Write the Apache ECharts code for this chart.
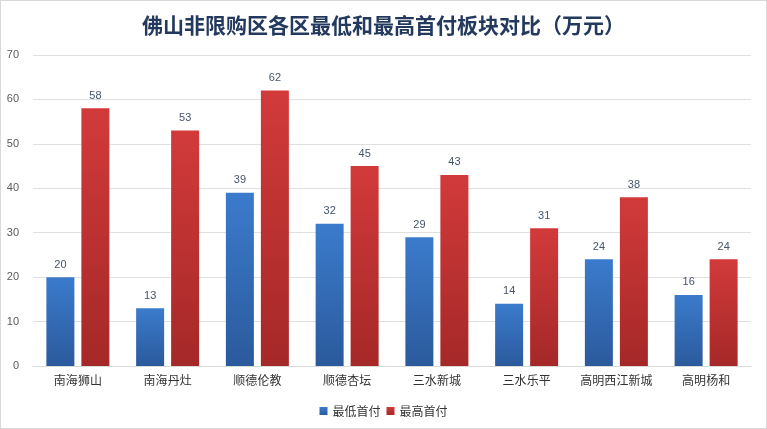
<!DOCTYPE html>
<html><head><meta charset="utf-8">
<script src="https://cdn.jsdelivr.net/npm/echarts@6/dist/echarts.min.js"></script>
<style>html,body{margin:0;padding:0;background:#fff}#c{width:765px;height:427px;border:1px solid #d9d9d9}</style>
</head><body><div id="c"></div>
<script>
const categories = ['南海狮山','南海丹灶','顺德伦教','顺德杏坛','三水新城','三水乐平','高明西江新城','高明杨和'];
const minDown = [20,13,39,32,29,14,24,16];
const maxDown = [58,53,62,45,43,31,38,24];
const seriesNames = ['最低首付','最高首付'];
const chart = echarts.init(document.getElementById('c'));
const grad = (a,b)=>new echarts.graphic.LinearGradient(0,0,0,1,[{offset:0,color:a},{offset:1,color:b}]);
chart.setOption({
  animation:false,
  title:{text:'佛山非限购区各区最低和最高首付板块对比（万元）',left:'center',top:9,
    textStyle:{fontSize:21,fontWeight:'bold',color:'#23395d',fontFamily:'Noto Sans CJK SC'}},
  legend:{bottom:6,left:'center',itemWidth:8,itemHeight:8,itemGap:6,icon:'rect',
    textStyle:{fontSize:12,color:'#333',fontFamily:'Noto Sans CJK SC'},data:seriesNames},
  grid:{left:32,right:15,top:54,bottom:62},
  xAxis:{type:'category',data:categories,axisTick:{show:false},
    axisLine:{lineStyle:{color:'#d9d9d9'}},
    axisLabel:{interval:0,color:'#333',fontSize:12,margin:8,fontFamily:'Noto Sans CJK SC'}},
  yAxis:{type:'value',min:0,max:70,interval:10,
    axisLabel:{color:'#595959',fontSize:11,margin:14},
    splitLine:{lineStyle:{color:'#e0e0e0'}}},
  series:[
    {name:seriesNames[0],type:'bar',data:minDown,barWidth:28,barGap:'25%',
     itemStyle:{color:grad('#3b7bcc','#2b5a9c')},
     label:{show:true,position:'top',color:'#44546a',fontSize:11,distance:7}},
    {name:seriesNames[1],type:'bar',data:maxDown,barWidth:28,
     itemStyle:{color:grad('#d23a3a','#a52828')},
     label:{show:true,position:'top',color:'#44546a',fontSize:11,distance:7}}
  ]
});
</script></body></html>
